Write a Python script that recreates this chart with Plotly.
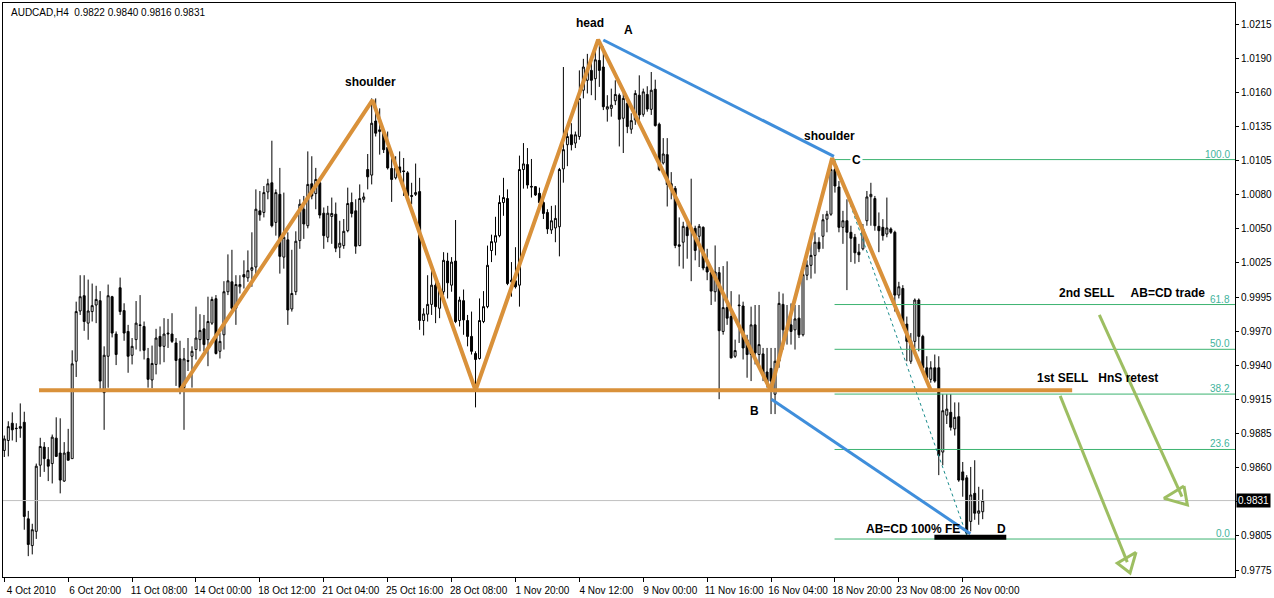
import plotly.graph_objects as go

# ---------------- data (H4 bars, index = bar number) ----------------
open_ = [0.98714,0.98794,0.98933,0.98893,0.98906,0.98941,0.98163,0.97947,0.98062,0.98595,
0.98741,0.98640,0.98608,0.98813,0.98693,0.98467,0.98701,0.98648,0.99433,0.99838,
0.99961,0.99740,0.99833,0.99886,0.99921,0.99180,0.99473,0.99953,0.99652,1.00025,
0.99841,0.99673,0.99481,0.99607,0.99726,0.99713,0.99455,0.99282,0.99407,0.99633,
0.99553,0.99660,0.99652,0.99580,0.99452,0.99220,0.99439,0.99473,0.99527,0.99607,
0.99694,0.99607,0.99740,0.99937,0.99513,0.99646,0.99993,1.00073,0.99860,1.00033,
1.00131,1.00105,1.00166,1.00192,1.00645,1.00632,1.00797,1.00871,1.00552,1.00778,
1.00272,1.00411,0.99854,0.99993,1.00405,1.00658,1.00525,1.00863,1.00784,1.00871,
1.00626,1.00432,1.00600,1.00618,1.00352,1.00365,1.00485,1.00712,1.00645,1.00365,
1.00738,1.00978,1.00933,1.01369,1.01284,1.01271,1.01156,1.00986,1.00911,1.00999,
1.00967,1.00951,1.00768,1.00778,1.00800,0.99761,0.99812,0.99891,1.00046,0.99860,
0.99993,1.00240,1.00046,1.00240,0.99761,0.99921,0.99761,0.99633,0.99495,0.99455,
0.99753,0.99873,1.00325,1.00392,1.00445,1.00712,1.00744,1.00073,1.00081,1.00046,
1.00978,1.01018,1.00842,1.00840,1.00786,1.00712,1.00632,1.00491,1.00507,1.00517,
1.00983,1.01178,1.01258,1.01191,1.01244,1.01617,1.01697,1.01777,1.01710,1.01857,
1.01804,1.01465,1.01471,1.01532,1.01577,1.01391,1.01511,1.01303,1.01378,1.01577,
1.01423,1.01583,1.01463,1.01625,1.01343,1.01031,1.01098,1.00864,1.00826,1.00371,
1.00392,1.00512,1.00507,1.00504,1.00440,1.00512,1.00192,1.00147,0.99993,1.00147,
0.99673,0.99865,0.99793,0.99473,0.99886,0.99878,0.99606,0.99487,0.99726,0.99487,
0.99492,0.99346,0.99375,0.99167,0.99433,0.99891,0.99686,0.99726,0.99686,0.99780,
0.99646,1.00126,1.00206,1.00286,1.00392,1.00440,1.00578,1.00618,1.00978,1.00837,
1.00512,1.00565,1.00472,1.00432,1.00312,1.00339,1.00565,1.00759,1.00744,1.00520,
1.00512,1.00458,1.00499,1.00472,0.99966,1.00019,0.99732,0.99433,0.99593,0.99926,
0.99633,0.99380,0.99287,0.99380,0.99380,0.98701,0.98998,0.99021,0.98888,0.98986,
0.98541,0.98493,0.98142,0.98368,0.98208,0.98220]
high = [0.98834,0.98949,0.99021,0.98933,0.99093,0.99026,0.98227,0.98123,0.98608,0.98816,
0.98781,0.98741,0.98842,0.98981,0.98973,0.98781,0.98888,0.99521,0.99913,1.00126,
1.00126,1.00091,1.00059,1.00041,0.99998,0.99553,1.00051,0.99960,0.99673,1.00107,
0.99900,0.99726,0.99620,0.99918,0.99966,0.99753,0.99540,0.99559,0.99694,0.99713,
0.99780,0.99774,0.99820,0.99620,0.99598,0.99540,0.99620,0.99553,0.99873,0.99812,
0.99806,0.99953,0.99953,0.99966,0.99660,1.00078,1.00294,1.00331,1.00126,1.00126,
1.00246,1.00326,1.00472,1.00818,1.00805,1.00845,1.00903,1.01210,1.00818,1.00991,
1.00792,1.00472,1.00331,1.00480,1.00738,1.00765,1.01124,1.01085,1.00991,1.00898,
1.00672,1.00685,1.00752,1.00712,1.00565,1.00579,1.00832,1.00792,1.00738,1.00858,
1.00792,1.01103,1.01551,1.01551,1.01471,1.01284,1.01284,1.01124,1.01085,1.01124,
1.01071,1.00965,1.00871,1.01026,1.00911,0.99860,1.00126,1.00179,1.00099,1.00059,
1.00312,1.00307,1.00272,1.00571,0.99953,1.00011,0.99806,0.99833,0.99513,0.99939,
0.99998,1.00365,1.00453,1.00597,1.00770,1.00911,1.00818,1.00232,1.00352,1.01090,
1.01191,1.01151,1.01063,1.00845,1.00832,1.00765,1.00658,1.00685,1.00690,1.00991,
1.01804,1.01338,1.01351,1.01284,1.01777,1.01870,1.01910,1.01857,1.01977,1.02011,
1.01969,1.01577,1.01630,1.01697,1.01591,1.01604,1.01551,1.01431,1.01617,1.01737,
1.01630,1.01649,1.01764,1.01702,1.01356,1.01231,1.01231,1.00957,1.00845,1.00592,
1.00557,1.00565,1.00904,1.00525,1.00539,1.00520,1.00339,1.00166,1.00366,1.00192,
1.00200,1.00238,0.99998,0.99607,0.99971,0.99913,0.99646,0.99873,0.99886,0.99886,
0.99540,0.99540,0.99540,0.99540,0.99993,0.99979,0.99886,0.99899,0.99886,0.99886,
1.00219,1.00246,1.00392,1.00472,1.00432,1.00618,1.00645,1.01071,1.01031,1.00885,
1.00645,1.00738,1.00525,1.00459,1.00379,1.00539,1.00805,1.00871,1.00765,1.00632,
1.00578,1.00752,1.00512,1.00485,1.00073,1.00046,0.99793,0.99660,0.99939,0.99939,
0.99646,0.99473,0.99433,0.99487,0.99473,0.99167,0.99167,0.99167,0.99101,0.99101,
0.98621,0.98515,0.98581,0.98635,0.98421,0.98400]
low = [0.98661,0.98666,0.98794,0.98781,0.98816,0.98075,0.97862,0.97876,0.98001,0.98501,
0.98541,0.98467,0.98448,0.98661,0.98368,0.98461,0.98635,0.98648,0.99306,0.99806,
0.99678,0.99606,0.99753,0.99740,0.99206,0.98880,0.99219,0.99625,0.99402,0.99806,
0.99598,0.99340,0.99407,0.99527,0.99513,0.99447,0.99220,0.99215,0.99327,0.99407,
0.99425,0.99540,0.99580,0.99234,0.99167,0.98880,0.99354,0.99220,0.99447,0.99513,
0.99513,0.99393,0.99726,0.99487,0.99455,0.99527,0.99966,0.99846,0.99726,0.99979,
1.00019,1.00073,1.00033,1.00113,1.00565,1.00592,1.00738,1.00512,1.00445,1.00139,
1.00179,0.99726,0.99833,0.99966,1.00339,1.00419,1.00504,1.00738,1.00658,1.00584,
1.00339,1.00392,1.00379,1.00312,1.00264,1.00339,1.00472,1.00592,1.00299,1.00360,
1.00712,1.00818,1.00858,1.01244,1.01098,1.01111,1.00978,1.00717,1.00898,1.00911,
1.00765,1.00712,1.00698,1.00765,0.99686,0.99641,0.99753,0.99806,0.99740,0.99780,
0.99966,0.99939,0.99993,0.99740,0.99713,0.99646,0.99553,0.99487,0.99061,0.99447,
0.99740,0.99860,1.00232,1.00286,1.00432,1.00605,1.00046,0.99953,1.00019,0.99873,
1.00824,1.00824,1.00752,1.00765,1.00645,1.00579,1.00459,1.00459,1.00392,1.00278,
1.00872,1.01005,1.01132,1.01151,1.01218,1.01551,1.01591,1.01577,1.01537,1.01644,
1.01457,1.01364,1.01404,1.01497,1.01164,1.01111,1.01271,1.01266,1.01338,1.01364,
1.01404,1.01444,1.01418,1.01324,1.00965,1.01018,1.00680,1.00738,1.00344,1.00198,
1.00179,1.00259,1.00078,1.00246,1.00192,1.00166,1.00086,0.99886,0.99913,0.99127,
0.99647,0.99726,0.99455,0.99460,0.99580,0.99447,0.99300,0.99273,0.99407,0.99407,
0.99273,0.99220,0.99007,0.99007,0.99380,0.99527,0.99567,0.99567,0.99527,0.99620,
0.99633,1.00086,1.00099,1.00139,1.00312,1.00339,1.00472,1.00605,1.00792,1.00472,
1.00379,1.00006,1.00232,1.00219,1.00232,1.00326,1.00525,1.00525,1.00485,1.00312,
1.00405,1.00432,1.00459,0.99833,0.99939,0.99700,0.99433,0.99412,0.99540,0.99513,
0.99367,0.99273,0.99260,0.99260,0.98515,0.98595,0.98927,0.98874,0.98834,0.98461,
0.98341,0.98005,0.98062,0.98155,0.98115,0.98160]
close = [0.98807,0.98906,0.98880,0.98890,0.98893,0.98182,0.97956,0.98075,0.98587,0.98746,
0.98648,0.98587,0.98821,0.98666,0.98475,0.98693,0.98635,0.99412,0.99833,0.99953,
0.99753,0.99838,0.99881,0.99931,0.99273,0.99481,0.99961,0.99660,0.99487,0.99833,
0.99660,0.99473,0.99553,0.99740,0.99721,0.99521,0.99287,0.99415,0.99620,0.99553,
0.99652,0.99654,0.99593,0.99439,0.99220,0.99452,0.99433,0.99513,0.99620,0.99681,
0.99567,0.99753,0.99931,0.99495,0.99593,0.99993,1.00081,0.99860,1.00051,1.00051,
1.00112,1.00163,1.00187,1.00658,1.00613,1.00792,1.00863,1.00525,1.00792,1.00278,
1.00432,0.99846,0.99979,1.00400,1.00698,1.00539,1.00858,1.00765,1.00898,1.00611,
1.00445,1.00626,1.00624,1.00344,1.00384,1.00480,1.00704,1.00624,1.00360,1.00744,
1.00757,1.00919,1.01351,1.01271,1.01298,1.01138,1.00991,1.00898,1.00991,1.00951,
1.00962,1.00765,1.00762,1.00792,0.99761,0.99814,0.99891,1.00046,0.99873,1.00006,
1.00246,1.00065,1.00232,0.99753,0.99926,0.99766,0.99633,0.99513,0.99447,0.99761,
0.99873,1.00206,1.00397,1.00445,1.00712,1.00752,1.00059,1.00086,1.00033,1.00978,
1.01023,1.00853,1.00837,1.00773,1.00712,1.00624,1.00499,1.00565,1.00584,1.00978,
1.01138,1.01244,1.01178,1.01258,1.01551,1.01804,1.01790,1.01697,1.01862,1.01777,
1.01484,1.01484,1.01497,1.01583,1.01383,1.01551,1.01324,1.01372,1.01591,1.01418,
1.01604,1.01465,1.01617,1.01332,1.00978,1.01103,1.00858,1.00818,1.00366,1.00360,
1.00520,1.00445,1.00501,1.00326,1.00520,1.00184,1.00152,0.99998,1.00152,0.99679,
0.99865,0.99780,0.99460,0.99519,0.99881,0.99540,0.99487,0.99726,0.99500,0.99567,
0.99327,0.99260,0.99273,0.99433,0.99899,0.99686,0.99700,0.99673,0.99774,0.99646,
1.00131,1.00206,1.00286,1.00392,1.00339,1.00573,1.00618,1.00978,1.00845,1.00512,
1.00565,1.00472,1.00424,1.00307,1.00291,1.00499,1.00757,1.00778,1.00525,1.00485,
1.00445,1.00507,1.00472,0.99966,1.00033,0.99726,0.99593,0.99598,0.99926,0.99633,
0.99380,0.99300,0.99380,0.99273,0.98674,0.99034,0.99047,0.98901,0.98981,0.98475,
0.98475,0.98048,0.98355,0.98208,0.98227,0.98310]

bars = list(range(len(close)))

x_tick_bars = [0, 16, 32, 48, 64, 80, 96, 112, 128, 144, 160, 176, 192, 208, 224, 240]
x_tick_labels = ["4 Oct 2010", "6 Oct 20:00", "11 Oct 08:00", "14 Oct 00:00", "18 Oct 12:00",
                 "21 Oct 04:00", "25 Oct 16:00", "28 Oct 08:00", "1 Nov 20:00", "4 Nov 12:00",
                 "9 Nov 00:00", "11 Nov 16:00", "16 Nov 04:00", "18 Nov 20:00", "23 Nov 08:00",
                 "26 Nov 00:00"]
# the 0.9830 tick sits under the current-price tag, so its label is left blank
y_tick_labels = ["1.0215", "1.0190", "1.0160", "1.0135", "1.0105", "1.0080", "1.0050", "1.0025",
                 "0.9995", "0.9970", "0.9940", "0.9915", "0.9885", "0.9860", "", "0.9805",
                 "0.9775"]
y_tick_top = 1.0215
y_tick_step = 0.00275

# head & shoulders zigzag (bar, price)
hns_x = [44.0, 92.2, 118.0, 148.7, 191.9, 207.3, 232.0]
hns_y = [0.99199, 1.01537, 0.99199, 1.02025, 0.99199, 1.01070, 0.99199]
neck_x = [8.7, 267.4]
neck_y = [0.99199, 0.99199]
# AB=CD legs
ab_x = [150.0, 207.75]
ab_y = [1.02022, 1.01084]
cd_x = [192.1, 241.9]
cd_y = [0.99127, 0.98043]
# Fibonacci retracement C -> D
fib_x = [207.9, 241.3]
fib_hi = 1.01058
fib_lo = 0.98000
fib_levels = [100.0, 61.8, 50.0, 38.2, 23.6, 0.0]
# target bar at D
dbar_x = [232.9, 250.9]
dbar_y = [0.98014, 0.98014]
# green sell arrows: shaft + hollow head
arrow1_x = [274.2, 294.9]
arrow1_y = [0.99806, 0.98341]
head1_x = [295.4, 290.4, 296.25, 295.4]
head1_y = [0.98427, 0.98328, 0.98275, 0.98427]
arrow2_x = [264.4, 281.2]
arrow2_y = [0.99154, 0.97814]
head2_x = [283.4, 278.7, 281.9, 283.4]
head2_y = [0.97894, 0.97806, 0.97726, 0.97894]

labels = ["shoulder", "head", "A", "shoulder", "B", "AB=CD 100% FE", "D",
          "2nd SELL\u00a0\u00a0\u00a0\u00a0 AB=CD trade", "1st SELL\u00a0\u00a0 HnS retest"]
label_x = [91.7, 146.7, 156.2, 206.7, 187.9, 227.55, 249.6, 282.3, 273.7]
label_y = [1.01681, 1.02160, 1.02104, 1.01250, 0.99029, 0.98082, 0.98083, 0.99982, 0.99294]

X_RANGE = [-0.325, 308.175]
Y_RANGE = [0.97694, 1.02320]

ORANGE = "#D9913A"
BLUE = "#3F8EDB"
FIBC = "#3CB371"
FIBT = "#42B39C"
ARROWC = "#9DBE62"
FONT = "Liberation Sans, Arial, sans-serif"

fig = go.Figure()

# fib lines
for lv in fib_levels:
    price = fib_lo + (fib_hi - fib_lo) * lv / 100.0
    fig.add_trace(go.Scatter(x=[fib_x[0], X_RANGE[1]], y=[price, price], mode="lines",
                             line=dict(color=FIBC, width=1), hoverinfo="skip"))
    fig.add_annotation(x=1, xref="paper", y=price, yref="y", text=f"{lv:.1f}",
                       xanchor="right", yanchor="bottom", xshift=-3, yshift=-2, showarrow=False,
                       font=dict(family=FONT, size=10, color=FIBT))

# current price line
fig.add_trace(go.Scatter(x=X_RANGE, y=[close[-1], close[-1]], mode="lines",
                         line=dict(color="#C0C0C0", width=1), hoverinfo="skip"))

fig.add_trace(go.Candlestick(
    x=bars, open=open_, high=high, low=low, close=close,
    increasing=dict(fillcolor="white", line=dict(color="black", width=1)),
    decreasing=dict(fillcolor="black", line=dict(color="black", width=1)),
    whiskerwidth=0, hoverinfo="skip"))

# fib diagonal
fig.add_trace(go.Scatter(x=fib_x, y=[fib_hi, fib_lo], mode="lines",
                         line=dict(color="#1A8C8C", width=1, dash="dot"), hoverinfo="skip"))
# HnS
fig.add_trace(go.Scatter(x=neck_x, y=neck_y, mode="lines", line=dict(color=ORANGE, width=4)))
fig.add_trace(go.Scatter(x=hns_x, y=hns_y, mode="lines", line=dict(color=ORANGE, width=4)))
# AB=CD
fig.add_trace(go.Scatter(x=ab_x, y=ab_y, mode="lines", line=dict(color=BLUE, width=3)))
fig.add_trace(go.Scatter(x=cd_x, y=cd_y, mode="lines", line=dict(color=BLUE, width=3)))
# D bar
fig.add_trace(go.Scatter(x=dbar_x, y=dbar_y, mode="lines", line=dict(color="black", width=5)))

# text labels
for t, lx, ly in zip(labels, label_x, label_y):
    fig.add_annotation(x=lx, y=ly, text=f"<b>{t}</b>", showarrow=False,
                       font=dict(family=FONT, size=12, color="black"))
# C label on the 100 line (with gap)
fig.add_annotation(x=213.4, y=fib_hi, text="<b>C</b>", showarrow=False, bgcolor="white",
                   borderpad=1, font=dict(family=FONT, size=12, color="black"))

# arrows
for sx, sy, hx, hy in [(arrow1_x, arrow1_y, head1_x, head1_y), (arrow2_x, arrow2_y, head2_x, head2_y)]:
    fig.add_trace(go.Scatter(x=sx, y=sy, mode="lines", line=dict(color=ARROWC, width=3)))
    fig.add_trace(go.Scatter(x=hx, y=hy, mode="lines", line=dict(color=ARROWC, width=3)))

# title
fig.add_annotation(x=0.0045, xref="paper", y=0.984, yref="paper", xanchor="left", yanchor="middle",
                   text="AUDCAD,H4\u00a0 0.9822 0.9840 0.9816 0.9831",
                   showarrow=False, font=dict(family=FONT, size=10, color="black"))
# current price tag
fig.add_annotation(x=1, xref="paper", y=close[-1], yref="y", xanchor="left", xshift=1,
                   text=f"{close[-1]:.4f}", showarrow=False, bgcolor="black", borderpad=1,
                   font=dict(family=FONT, size=10, color="white"))

fig.update_layout(
    width=1274, height=598, margin=dict(l=2, r=38, t=2, b=17, pad=0),
    paper_bgcolor="white", plot_bgcolor="white", showlegend=False,
    xaxis=dict(range=X_RANGE, rangeslider=dict(visible=False), showgrid=False, zeroline=False,
               tickvals=x_tick_bars, ticktext=x_tick_labels, ticks="outside", ticklen=4,
               tickcolor="black", showline=True, linecolor="black", linewidth=1, mirror=True,
               ticklabelshift=27, tickfont=dict(family=FONT, size=10, color="black")),
    yaxis=dict(range=Y_RANGE, side="right", showgrid=False, zeroline=False,
               tickvals=[y_tick_top - i * y_tick_step for i in range(len(y_tick_labels))],
               ticktext=y_tick_labels, ticks="outside", ticklen=3, tickcolor="black",
               showline=True, linecolor="black", linewidth=1, mirror=True,
               tickfont=dict(family=FONT, size=10, color="black")),
)

fig.write_html("out.html", config={"displayModeBar": False},
               post_script="document.body.style.margin='0';document.body.style.overflow='hidden';")
